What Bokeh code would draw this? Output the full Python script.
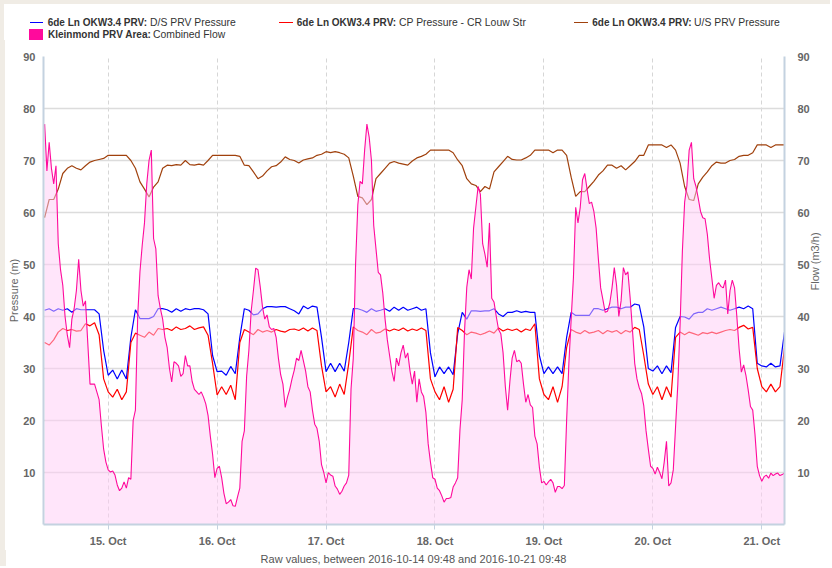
import math
import pandas as pd
from bokeh.plotting import figure
from bokeh.models import Range1d, LinearAxis, FixedTicker, DatetimeTickFormatter, ColumnDataSource, Div
from bokeh.layouts import column, row
from bokeh.embed import file_html
from bokeh.resources import INLINE

# ---------------- data ----------------
X_START = "2016-10-14 09:45"
X_END = "2016-10-21 05:00"

# pressures: hourly readings from 2016-10-14 10:00
PRESSURE_START = "2016-10-14 10:00"
ds_pressure = [
    41.2, 41.5, 41.0, 41.5, 41.2, 41.5, 40.8, 41.5, 41.3, 41.3, 41.3, 41.3, 40.5, 33.5,
    28.7, 29.7, 28.0, 29.7, 28.0, 36.0, 41.3, 39.6, 39.6, 39.6, 40.0, 41.5, 41.5, 41.3, 40.8, 41.5, 41.0, 41.5, 41.3, 41.5, 41.5, 41.3, 40.5, 32.5,
    29.4, 29.5, 28.7, 30.4, 29.0, 36.0, 41.5, 41.2, 40.3, 40.5, 41.5, 41.9, 41.9, 41.8, 41.9, 41.9, 41.5, 41.1, 40.5, 42.0, 41.5, 42.0, 41.8, 36.0,
    29.4, 31.0, 29.4, 31.0, 29.5, 35.0, 41.5, 41.5, 41.2, 40.8, 41.5, 41.0, 41.2, 41.5, 41.0, 41.8, 41.2, 41.8, 41.2, 41.5, 41.8, 41.2, 41.5, 33.0,
    28.4, 30.3, 29.0, 30.3, 28.8, 36.7, 40.8, 39.5, 41.1, 41.1, 41.0, 41.1, 41.1, 41.5, 40.5, 40.0, 40.8, 40.8, 41.1, 40.8, 41.0, 40.8, 40.8, 32.5,
    29.0, 30.3, 29.0, 30.3, 29.0, 36.0, 40.8, 40.2, 40.2, 40.2, 40.2, 41.5, 41.5, 41.2, 41.5, 41.8, 41.8, 41.5, 41.8, 41.8, 42.4, 42.2, 38.0, 30.0,
    29.5, 30.5, 29.0, 30.5, 29.2, 37.9, 40.0, 39.9, 39.5, 40.5, 40.8, 40.8, 41.5, 41.2, 41.5, 41.8, 41.5, 41.2, 41.5, 41.8, 41.5, 42.0, 41.5, 31.0,
    30.5, 30.3, 31.0, 30.3, 30.5, 37.0,
]

cp_pressure = [
    35.0, 34.5, 35.5, 37.0, 37.7, 37.3, 37.5, 37.2, 37.3, 38.6, 38.2, 38.8, 36.5, 28.0,
    25.5, 24.5, 26.0, 24.0, 25.5, 35.0, 36.8, 36.4, 36.0, 37.0, 36.4, 37.7, 37.5, 37.7, 37.3, 38.0, 37.5, 37.7, 38.2, 37.5, 37.8, 38.0, 36.4, 31.0,
    24.9, 26.5, 25.0, 26.8, 24.0, 35.0, 37.5, 37.0, 36.5, 37.5, 37.0, 37.3, 37.0, 37.5, 37.2, 37.0, 37.5, 37.6, 37.3, 37.8, 37.2, 37.8, 37.3, 30.5,
    25.5, 26.5, 24.5, 27.0, 25.0, 31.0, 38.0, 37.3, 37.0, 36.5, 37.5, 36.8, 37.0, 37.6, 37.2, 37.6, 37.3, 37.8, 37.2, 37.6, 37.3, 37.8, 37.3, 28.0,
    25.5, 24.0, 26.5, 23.5, 26.0, 37.9, 37.3, 36.5, 37.0, 36.8, 36.5, 36.8, 37.2, 36.8, 37.8, 37.2, 37.6, 37.3, 37.6, 37.0, 37.6, 37.3, 38.6, 28.0,
    25.0, 24.0, 26.5, 23.5, 26.5, 34.0, 37.5, 37.0, 36.7, 37.3, 36.8, 37.0, 37.3, 36.7, 37.3, 37.0, 37.3, 36.7, 37.3, 37.0, 37.9, 37.5, 32.5, 27.0,
    25.0, 26.5, 24.0, 26.5, 24.5, 36.0, 37.0, 36.5, 37.0, 36.7, 36.4, 36.9, 36.7, 37.0, 36.7, 37.0, 37.3, 37.5, 37.3, 37.9, 38.3, 37.6, 37.9, 30.0,
    26.5, 25.5, 27.0, 25.5, 26.5, 34.0,
]

us_pressure = [
    59.0, 62.5, 62.5, 64.5, 67.5, 68.5, 69.0, 68.5, 68.2, 69.0, 69.7, 70.0, 70.2, 70.4,
    71.0, 71.0, 71.0, 71.0, 71.0, 70.0, 68.5, 65.9, 64.5, 63.0, 64.9, 65.9, 68.5, 69.1, 69.0, 69.2, 69.1, 70.0, 69.2, 69.1, 69.3, 69.1, 70.0, 71.0,
    71.0, 71.0, 71.0, 71.0, 71.0, 70.8, 69.1, 69.0, 67.8, 66.5, 67.0, 68.0, 68.8, 69.0, 69.7, 70.7, 70.2, 70.0, 69.5, 70.1, 70.3, 70.5, 71.0, 71.2,
    71.7, 71.5, 71.7, 71.5, 71.2, 70.5, 67.0, 63.1, 62.8, 61.5, 62.5, 66.5, 67.5, 68.5, 69.5, 69.8, 69.5, 69.3, 69.1, 69.9, 70.5, 70.8, 71.2, 72.0,
    72.0, 72.0, 72.0, 72.0, 71.5, 70.1, 69.0, 66.5, 65.5, 65.2, 64.0, 65.0, 64.5, 67.8, 68.8, 69.8, 70.8, 70.2, 70.1, 70.1, 70.5, 71.0, 72.0, 72.0,
    72.0, 72.0, 71.5, 72.0, 72.0, 71.0, 66.8, 63.1, 64.0, 64.0, 65.0, 66.0, 67.2, 68.0, 69.1, 69.1, 68.5, 69.0, 68.2, 69.0, 69.8, 71.0, 71.0, 73.0,
    73.0, 73.0, 73.0, 72.5, 73.0, 72.0, 69.5, 65.0, 62.5, 62.3, 65.5, 66.8, 67.8, 69.0, 69.7, 69.5, 69.5, 70.0, 70.2, 70.8, 71.0, 71.0, 71.5, 73.0,
    73.0, 73.0, 72.5, 73.0, 73.0, 73.0,
]

# flow: half-hourly readings from 2016-10-14 10:00
FLOW_START = "2016-10-14 10:00"
combined_flow = [
    77, 68, 73.5, 68.5, 65.5, 69, 54, 49, 46, 40,
    36.4, 34, 39.5, 41.5, 45, 51, 45, 42, 43, 35,
    27, 27, 27, 25.5, 24, 19, 14.5, 12,
    10.5, 10.1, 10.3, 9.5, 7.6, 6.5, 7, 8.2, 7, 9,
    8.7, 20, 22, 40, 48.6, 53.7, 58, 65.5, 70, 72,
    55, 53, 44, 41.5, 39.5, 36, 34, 30, 27.4, 31.3,
    31, 30.5, 28.5, 29, 32.5, 30.5, 30.5, 27.5, 26, 25.5,
    25, 25.5, 24.5, 23.2, 21, 17, 13.5, 9, 10.8, 11.2,
    9, 6, 4, 4.3, 4.8, 3.6, 3.5, 5.3, 7, 16,
    18, 28.5, 33.5, 41, 45, 49.3, 49, 45.7, 41.8, 39.5,
    40.3, 38, 37.5, 37.7, 36, 32, 28.8, 27, 22.5, 24.5,
    26,
    28, 29.7, 32, 31.5, 33.5, 31.5, 29.5, 26.5, 25.5, 22,
    19.3, 18.5, 16, 11.5, 10,
    8, 10, 9.5, 9.3, 7.4, 6.8, 5.8, 6.4, 7.4, 8,
    9.5, 26, 32, 50, 61.5, 66, 65.5, 72, 77, 74.5,
    70, 57.5, 53, 48.5, 48, 44.5, 39.5, 35.5, 32.5, 29.5,
    27.5, 32, 30.5, 33, 34.5, 32, 33, 29.5, 27, 29.5,
    23.5, 28, 25.5, 24.6, 21.5, 15.5, 12, 9, 8.7, 7,
    6.5, 5.5, 4.3, 5, 5, 5.2, 7.2, 8, 9, 18.2,
    24, 37, 45.6, 49, 47.2, 57, 61, 65, 63.5, 54,
    52, 49.5, 58, 43.5, 42.8, 40, 37.5, 36.7, 33, 26.5,
    22, 27.5, 32, 33.5, 31.3, 31.6, 31, 27, 23.5, 25,
    23,
    22.5, 17, 15.5, 11, 8,
    8.3, 7.6, 8.2, 8.7, 8, 6.2, 7.3, 7.3, 6.9, 7.5,
    20, 31, 39.5, 47.5, 61, 58, 61, 66.3, 67.5, 64.5,
    61.7, 62, 60.2, 57, 51, 45.5, 43.2, 40.8, 41, 42.5,
    45.5, 49.4, 46, 40, 43, 49.4, 48, 48.6, 43.5, 37.5,
    31, 28, 26.3, 25.2, 22.8, 18, 14.5, 11.2, 10.8, 9.7,
    11, 10, 8.8, 12, 16, 7.4, 8, 10.5, 18.8, 27,
    38.5, 52.5, 62, 65.2, 72, 73.5, 66.5, 65, 62.7, 60.2,
    59, 58.8, 55.8, 51, 47.3, 43.5, 46, 46.5, 45.8, 45.5,
    47, 40.5, 45, 47, 45.5, 40, 33.8, 29.3, 30.7, 28.7,
    25.9, 22.7, 22, 17.3, 11.2, 9.4, 8.3, 9.2, 9.5, 8.9,
    9.9, 9.4, 9.7, 9.9, 9.4, 9.6, 9.9,
]

day_ticks = ["2016-10-15", "2016-10-16", "2016-10-17", "2016-10-18", "2016-10-19", "2016-10-20", "2016-10-21"]
value_ticks = [10, 20, 30, 40, 50, 60, 70, 80, 90]

series_names = ["D/S PRV Pressure", "CP Pressure - CR Louw Str", "U/S PRV Pressure"]
site_name = "6de Ln OKW3.4 PRV:"
flow_site = "Kleinmond PRV Area:"
flow_name = "Combined Flow"
left_title = "Pressure (m)"
right_title = "Flow (m3/h)"
subtitle = "Raw values, between 2016-10-14 09:48 and 2016-10-21 09:48"

# ---------------- styling / layout ----------------
FONT = "Liberation Sans"
CSS_FONT = "'Liberation Sans', Arial, sans-serif"
C_BLUE = "#0000ff"
C_RED = "#ff0000"
C_BROWN = "#a0410d"
C_PINK = "#ff0a9c"
C_FILL = "#ffccf5"
C_AXIS = "#c4d2e0"
C_GRID = "#dcdcdc"
C_LABEL = "#666666"
C_LEG = "#333333"
C_PAGE = "#f0ece5"

W = 830
EDGE = 5                                   # beige page edge on the left
LEG_H = 40
FIG_H = 510
SUB_H = 16
FL, FR, FT, FB = 43, 784, 56, 524          # plot frame edges in page pixels


# ---------------- legend (HTML strip above the chart) ----------------
def abs_box(l, t, w, h, color):
    return (f'<div style="position:absolute;left:{l}px;top:{t}px;width:{w}px;height:{h}px;'
            f'background:{color}"></div>')


def abs_text(l, cy, text, size, bold, color=C_LEG):
    weight = "bold" if bold else "normal"
    return (f'<span style="position:absolute;left:{l}px;top:{cy - 7}px;line-height:14px;'
            f'font-size:{size}px;font-weight:{weight};color:{color};white-space:nowrap">{text}</span>')


row1, row2 = 22.5, 35
parts = [abs_box(0, 0, W, 4, C_PAGE), abs_box(0, 0, EDGE - 1, LEG_H, C_PAGE)]
for (x0, x1, color), xb, xn, name in zip(
        [(29.5, 43.3, C_BLUE), (279, 292.5, C_RED), (574, 587.5, C_BROWN)],
        [47.7, 296.8, 592.3], [150, 399, 694], series_names):
    parts.append(abs_box(x0, row1 - 0.9, x1 - x0, 1.8, color))
    parts.append(abs_text(xb, row1, site_name, 10, True))
    parts.append(abs_text(xn, row1, name, 10.4, False))
parts.append(abs_box(29.3, 29.3, 13.4, 11, C_PINK))
parts.append(abs_text(48, row2, flow_site, 10, True))
parts.append(abs_text(153, row2, flow_name, 10.4, False))

legend_html = (f'<div style="position:relative;width:{W}px;height:{LEG_H}px;overflow:hidden;'
               f'font-family:{CSS_FONT};background:white">' + "".join(parts) + "</div>")
legend = Div(text=legend_html, width=W, height=LEG_H, margin=(0, 0, 0, 0))

# ---------------- main chart ----------------
p_times = pd.date_range(PRESSURE_START, periods=len(ds_pressure), freq="h")
f_times = pd.date_range(FLOW_START, periods=len(combined_flow), freq="30min")
psrc = ColumnDataSource(dict(t=p_times, ds=ds_pressure, cp=cp_pressure, us=us_pressure))
fsrc = ColumnDataSource(dict(t=f_times, flow=combined_flow))

fig_top = LEG_H
p = figure(width=W - EDGE, height=FIG_H, x_axis_type="datetime",
           x_range=Range1d(pd.Timestamp(X_START), pd.Timestamp(X_END)), y_range=Range1d(0, 90),
           output_backend="svg", toolbar_location=None,
           min_border_left=FL - EDGE, min_border_right=W - FR,
           min_border_top=FT - fig_top, min_border_bottom=fig_top + FIG_H - FB)
p.extra_y_ranges = {"flow": Range1d(0, 90)}
p.outline_line_color = None
p.background_fill_color = "white"
p.border_fill_color = "white"

day_ms = [pd.Timestamp(d).value // 10**6 for d in day_ticks]

p.ygrid.ticker = FixedTicker(ticks=value_ticks)
p.ygrid.grid_line_color = C_GRID
p.ygrid.grid_line_width = 1.3
p.xgrid.ticker = FixedTicker(ticks=day_ms)
p.xgrid.grid_line_color = "#d6d6d6"
p.xgrid.grid_line_dash = "4 3"
p.xgrid.grid_line_width = 1

# pressure lines
p.line("t", "ds", source=psrc, line_color=C_BLUE, line_width=1.2)
p.line("t", "cp", source=psrc, line_color=C_RED, line_width=1.2)
p.line("t", "us", source=psrc, line_color=C_BROWN, line_width=1.2)
# flow area (on top, translucent) + flow line
p.varea(x="t", y1=0, y2="flow", source=fsrc, fill_color=C_FILL, fill_alpha=0.5, y_range_name="flow")
p.line("t", "flow", source=fsrc, line_color=C_PINK, line_width=1.1, y_range_name="flow")

lax = p.yaxis[0]
rax = LinearAxis(y_range_name="flow")
p.add_layout(rax, "right")
for ax, so, title in ((lax, 8, left_title), (rax, 13, right_title)):
    ax.ticker = FixedTicker(ticks=value_ticks)
    ax.major_label_text_font = FONT
    ax.major_label_text_font_size = "11px"
    ax.major_label_text_font_style = "bold"
    ax.major_label_text_color = C_LABEL
    ax.major_label_standoff = so
    ax.major_tick_in = 0
    ax.major_tick_out = 0
    ax.minor_tick_in = 0
    ax.minor_tick_out = 0
    ax.axis_line_color = C_AXIS
    ax.axis_line_width = 2
    ax.axis_label = title
    ax.axis_label_text_font = FONT
    ax.axis_label_text_font_size = "11px"
    ax.axis_label_text_font_style = "normal"
    ax.axis_label_text_color = C_LABEL
    ax.axis_label_standoff = 2
lax.axis_label_standoff = 0
try:
    rax.axis_label_orientation = math.pi / 2
except AttributeError:
    pass

xa = p.xaxis[0]
xa.ticker = FixedTicker(ticks=day_ms)
fmt = "%d. %b"
xa.formatter = DatetimeTickFormatter(days=fmt, months=fmt, hours=fmt, minutes=fmt, hourmin=fmt,
                                     seconds=fmt, minsec=fmt, milliseconds=fmt, microseconds=fmt, years=fmt)
xa.major_label_text_font = FONT
xa.major_label_text_font_size = "11px"
xa.major_label_text_font_style = "bold"
xa.major_label_text_color = C_LABEL
xa.major_label_standoff = 5
xa.major_tick_in = 0
xa.major_tick_out = 5
xa.major_tick_line_color = C_AXIS
xa.minor_tick_in = 0
xa.minor_tick_out = 0
xa.axis_line_color = C_AXIS
xa.axis_line_width = 2

edge = Div(text=f'<div style="width:{EDGE}px;height:{FIG_H}px;background:{C_PAGE}"></div>',
           width=EDGE, height=FIG_H, margin=(0, 0, 0, 0))

# ---------------- subtitle (HTML strip below the chart) ----------------
sub_html = (f'<div style="position:relative;width:{W}px;height:{SUB_H}px;overflow:hidden;background:white;'
            f'font-family:{CSS_FONT}">' + abs_box(0, 0, EDGE + 1, SUB_H, C_PAGE) +
            f'<span style="position:absolute;left:{(FL + FR) / 2 - 200}px;width:400px;'
            f'top:3px;line-height:13px;text-align:center;font-size:11px;color:#555555;white-space:nowrap">'
            f'{subtitle}</span></div>')
sub = Div(text=sub_html, width=W, height=SUB_H, margin=(0, 0, 0, 0))

layout = column(legend, row(edge, p, spacing=0), sub, spacing=0)
open("out.html", "w").write(file_html(layout, INLINE))
